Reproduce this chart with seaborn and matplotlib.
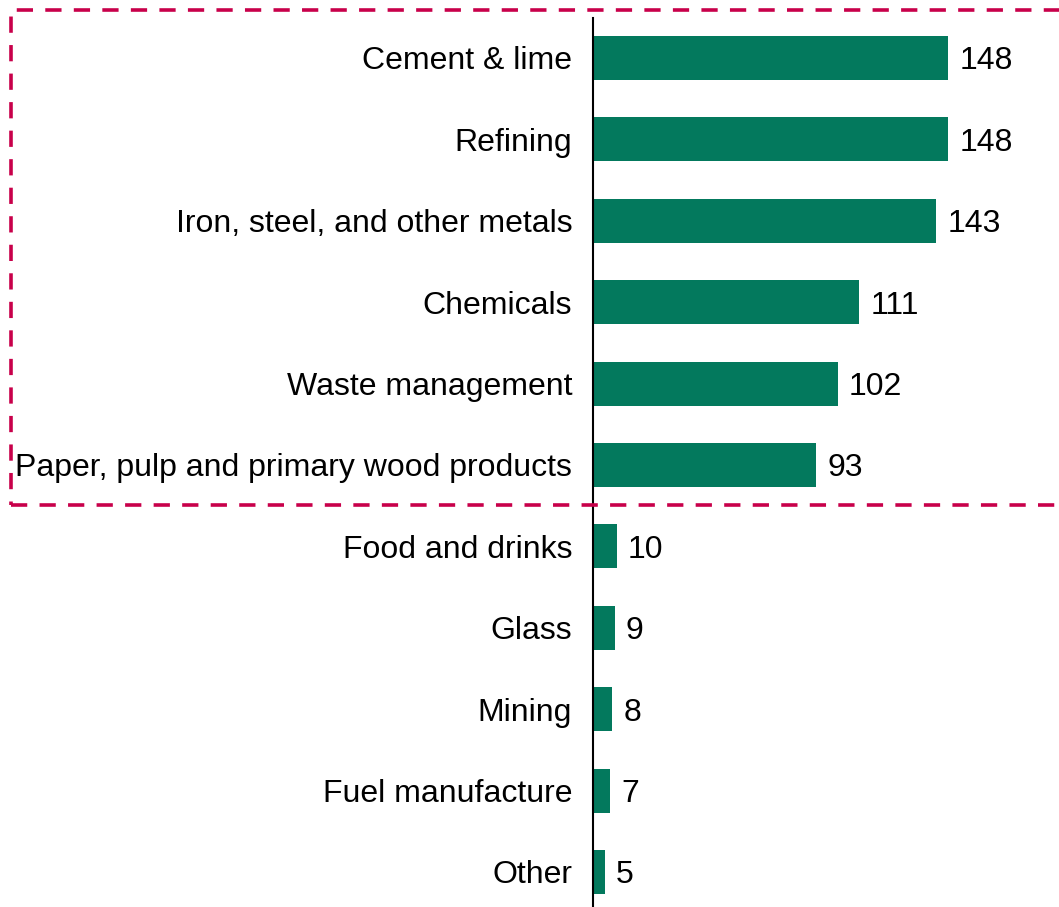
import matplotlib
matplotlib.use("Agg")
import matplotlib.pyplot as plt
from matplotlib.patches import Rectangle
import seaborn as sns
import pandas as pd

sectors = [
    "Cement & lime",
    "Refining",
    "Iron, steel, and other metals",
    "Chemicals",
    "Waste management",
    "Paper, pulp and primary wood products",
    "Food and drinks",
    "Glass",
    "Mining",
    "Fuel manufacture",
    "Other",
]
values = [148, 148, 143, 111, 102, 93, 10, 9, 8, 7, 5]

BAR_GREEN = "#03795D"
HIGHLIGHT = "#C8004A"

sns.set_theme(style="white")
plt.rcParams["font.family"] = ["Liberation Sans", "DejaVu Sans"]

df = pd.DataFrame({"sector": sectors, "value": values})

W, H = 1059, 907
fig = plt.figure(figsize=(W / 100, H / 100), dpi=100)
ax = fig.add_axes([593 / W, 0, 1 - 593 / W, 1 - 18 / H])

sns.barplot(data=df, x="value", y="sector", orient="h", color=BAR_GREEN,
            saturation=1, width=0.54, ax=ax, edgecolor="none")

ax.set_xlim(0, (W - 593) / 2.4)
ax.set_ylim(10.43, -0.49)
ax.set_xlabel("")
ax.set_ylabel("")
ax.set_xticks([])
ax.tick_params(axis="y", length=0, pad=15, labelsize=23, colors="black")

for side in ["top", "right", "bottom"]:
    ax.spines[side].set_visible(False)
ax.spines["left"].set_color("black")
ax.spines["left"].set_linewidth(1.5)

for container in ax.containers:
    labels = ax.bar_label(container, labels=[str(v) for v in values],
                          padding=8, fontsize=23, color="black")
    for lab in labels:
        lab.xyann = (8, -2.5)

# dashed frame around the six largest sectors
frame = Rectangle((11 / W, 1 - 505 / H), 1.2, (505 - 9.5) / H,
                  transform=fig.transFigure, fill=False,
                  edgecolor=HIGHLIGHT, linewidth=2.6,
                  linestyle=(0, (4.5, 3.4)), clip_on=False)
fig.patches.append(frame)

fig.savefig("out.png", dpi=100)
